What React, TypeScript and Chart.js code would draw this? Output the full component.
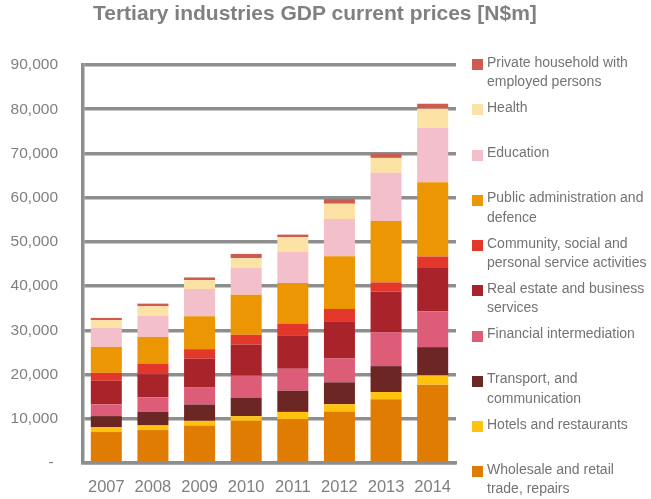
import React, { useEffect, useRef } from 'react';
import { Chart, registerables } from 'chart.js';

Chart.register(...registerables);

// ---- data ----
const years = ['2007', '2008', '2009', '2010', '2011', '2012', '2013', '2014'];

const wholesale = [7000, 7450, 8490, 9530, 9900, 11640, 14410, 17720];
const hotels = [1060, 1050, 1040, 1060, 1650, 1650, 1650, 2100];
const transport = [2550, 3080, 3690, 4210, 4800, 4950, 5850, 6380];
const financial = [2650, 3250, 3830, 4950, 4960, 5410, 7660, 8100];
const realEstate = [5330, 5260, 6530, 7050, 7590, 8400, 9170, 9780];
const community = [1800, 2410, 2160, 2190, 2610, 2790, 2090, 2610];
const publicAdmin = [5870, 6010, 7440, 9070, 9170, 11940, 13900, 16820];
const education = [4290, 4740, 6170, 6020, 7050, 8400, 10880, 12240];
const health = [1740, 2180, 2020, 2250, 3310, 3450, 3380, 4360];
const privateHousehold = [520, 610, 590, 950, 610, 1050, 990, 1130];

const yTickValues = [0, 10000, 20000, 30000, 40000, 50000, 60000, 70000, 80000, 90000];

const titleText = 'Tertiary industries GDP current prices [N$m]';

// bottom-to-top stack order
const seriesNames = [
  'Wholesale and retail\ntrade, repairs',
  'Hotels and restaurants',
  'Transport, and\ncommunication',
  'Financial intermediation',
  'Real estate and business\nservices',
  'Community, social and\npersonal service activities',
  'Public administration and\ndefence',
  'Education',
  'Health',
  'Private household with\nemployed persons',
];
const seriesValues = [
  wholesale, hotels, transport, financial, realEstate,
  community, publicAdmin, education, health, privateHousehold,
];
const seriesColors = [
  '#E07C02', '#FFC20E', '#6C2624', '#DD5C78', '#A8232A',
  '#E2372A', '#EC9603', '#F2BFCB', '#FCE3A5', '#CD5B50',
];

const GRID = '#8E8E8E';
const TICK = '#7F7F7F';

export default function App() {
  const ref = useRef<HTMLCanvasElement>(null);

  useEffect(() => {
    const canvas = ref.current!;
    const chart = new Chart(canvas, {
      type: 'bar',
      data: {
        labels: years,
        datasets: seriesNames.map((n, i) => ({
          label: n.replace('\n', ' '),
          data: seriesValues[i],
          backgroundColor: seriesColors[i],
          borderWidth: 0,
          categoryPercentage: 1,
          barPercentage: 0.665,
        })),
      },
      options: {
        responsive: false,
        animation: false,
        layout: { padding: { top: 65, right: 195, bottom: 0, left: 0 } },
        plugins: {
          legend: { display: false },
          title: { display: false },
          tooltip: { enabled: false },
        },
        scales: {
          x: {
            stacked: true,
            grid: { display: false, drawTicks: false },
            border: { display: true, color: GRID, width: 3.5 },
            ticks: {
              color: TICK,
              padding: 15,
              autoSkip: false,
              maxRotation: 0,
              minRotation: 0,
              font: { family: '"Liberation Sans", Arial, sans-serif', size: 16.5 },
            },
            afterFit: (s: any) => { s.height = 36; },
          },
          y: {
            stacked: true,
            min: 0,
            max: 90000,
            afterBuildTicks: (s: any) => { s.ticks = yTickValues.map((v) => ({ value: v })); },
            ticks: {
              color: TICK,
              padding: 25,
              font: { family: '"Liberation Sans", Arial, sans-serif', size: 15.5 },
              callback: (v: any) => (Number(v) === 0 ? '- ' : Number(v).toLocaleString('en-US')),
            },
            grid: { color: GRID, lineWidth: 3.5, drawTicks: false },
            border: { display: true, color: GRID, width: 3.5 },
            afterFit: (s: any) => { s.width = 83; },
          },
        },
      },
    });
    return () => chart.destroy();
  }, []);

  const legendOrder = seriesNames.map((_, i) => seriesNames.length - 1 - i);

  return (
    <div style={{ position: 'absolute', left: 0, top: 0, width: 651, height: 499, background: '#fff', overflow: 'hidden' }}>
      <canvas ref={ref} width={651} height={499} style={{ position: 'absolute', left: 0, top: 0, width: 651, height: 499 }} />
      <div
        style={{
          position: 'absolute', left: 93, top: 1.4, whiteSpace: 'nowrap',
          font: 'bold 21px "Liberation Sans", Arial, sans-serif', lineHeight: '24px', color: '#808080',
        }}
      >
        {titleText}
      </div>
      {legendOrder.map((idx, k) => {
        const center = 62.7 + k * 45.25;
        return (
          <div key={idx}>
            <div style={{ position: 'absolute', left: 472, top: center - 3.5, width: 11, height: 11, background: seriesColors[idx] }} />
            <div
              style={{
                position: 'absolute', left: 487, top: center - 10.2, whiteSpace: 'pre',
                font: '14px "Liberation Sans", Arial, sans-serif', lineHeight: '19.5px', color: '#737373',
              }}
            >
              {seriesNames[idx]}
            </div>
          </div>
        );
      })}
    </div>
  );
}
